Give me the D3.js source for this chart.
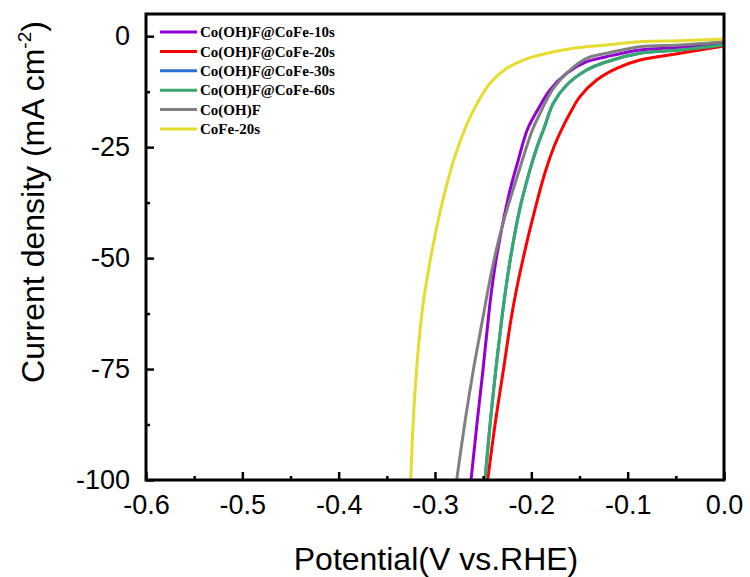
<!DOCTYPE html>
<html>
<head>
<meta charset="utf-8">
<script src="https://cdn.jsdelivr.net/npm/d3@7"></script>
<style>
  html, body { margin: 0; padding: 0; background: #fff; }
  svg { display: block; }
</style>
</head>
<body>
<svg id="chart" width="750" height="577"></svg>
<script>
// ---------- data ----------
const seriesNames = ["Co(OH)F@CoFe-10s", "Co(OH)F@CoFe-20s", "Co(OH)F@CoFe-30s", "Co(OH)F@CoFe-60s", "Co(OH)F", "CoFe-20s"];
const seriesColors = ["#9400d3", "#ff0000", "#2a6fd6", "#38a96b", "#808080", "#e6dc2e"];

// Co(OH)F@CoFe-10s
const potential10s = [0, -0.0457, -0.0872, -0.1218, -0.1425, -0.1633, -0.1806, -0.1935, -0.2040, -0.2145, -0.2197, -0.2245, -0.2310, -0.2372, -0.2420, -0.2462, -0.2502, -0.2560, -0.2626];
const current10s   = [-1.60, -2.50, -3.11, -4.62, -5.75, -8.36, -12.12, -16.63, -20.98, -28.64, -32.63, -36.90, -43.67, -51.17, -58.54, -66.87, -75.22, -86.49, -100];
// Co(OH)F@CoFe-20s
const potential20s = [0, -0.0457, -0.0872, -0.1114, -0.1322, -0.1495, -0.1599, -0.1685, -0.1765, -0.1860, -0.1990, -0.2073, -0.2155, -0.2212, -0.2290, -0.2370, -0.2453];
const current20s   = [-2.21, -3.86, -5.37, -7.24, -9.87, -13.63, -17.37, -20.98, -24.90, -30.89, -41.41, -48.92, -57.19, -63.95, -75.22, -86.49, -100];
// Co(OH)F@CoFe-30s (lies beneath the 60s curve in the original)
const potential30s = [0, -0.0457, -0.0872, -0.1218, -0.1425, -0.1633, -0.1772, -0.1872, -0.1940, -0.2025, -0.2130, -0.2208, -0.2267, -0.2308, -0.2369, -0.2424, -0.2481];
const current30s   = [-1.99, -3.11, -3.86, -5.75, -7.62, -11.00, -15.12, -20.98, -24.90, -30.89, -39.91, -48.92, -57.19, -63.95, -75.22, -86.49, -100];
// Co(OH)F@CoFe-60s
const potential60s = [0, -0.0457, -0.0872, -0.1218, -0.1425, -0.1633, -0.1772, -0.1872, -0.1940, -0.2025, -0.2130, -0.2208, -0.2267, -0.2308, -0.2369, -0.2424, -0.2481];
const current60s   = [-1.99, -3.11, -3.86, -5.75, -7.62, -11.00, -15.12, -20.98, -24.90, -30.89, -39.91, -48.92, -57.19, -63.95, -75.22, -86.49, -100];
// Co(OH)F
const potentialCoOHF = [0, -0.0457, -0.0872, -0.1218, -0.1425, -0.1599, -0.1772, -0.1893, -0.1986, -0.2049, -0.2136, -0.2284, -0.2372, -0.2450, -0.2507, -0.2602, -0.2686, -0.2775];
const currentCoOHF   = [-1.24, -1.99, -2.37, -3.86, -4.98, -7.62, -11.74, -16.63, -20.98, -24.90, -30.89, -41.41, -48.92, -57.19, -63.95, -75.22, -86.49, -100];
// CoFe-20s
const potentialCoFe = [0, -0.0457, -0.0872, -0.1218, -0.1565, -0.1910, -0.2083, -0.2256, -0.2429, -0.2560, -0.2665, -0.2795, -0.2865, -0.2918, -0.2990, -0.3058, -0.3118, -0.3155, -0.3192, -0.3225, -0.3252];
const currentCoFe   = [-0.63, -1.02, -1.24, -1.99, -2.73, -4.24, -5.37, -7.24, -10.62, -15.05, -19.63, -27.15, -32.40, -36.90, -43.90, -51.56, -59.45, -66.21, -75.22, -86.49, -100];

const xTicks = [-0.6, -0.5, -0.4, -0.3, -0.2, -0.1, 0.0];
const xTickLabels = ["-0.6", "-0.5", "-0.4", "-0.3", "-0.2", "-0.1", "0.0"];
const xMinorTicks = [-0.55, -0.45, -0.35, -0.25, -0.15, -0.05];
const yTicks = [0, -25, -50, -75, -100];
const yTickLabels = ["0", "-25", "-50", "-75", "-100"];
const yMinorTicks = [-12.5, -37.5, -62.5, -87.5];

const seriesPotentials = [potential10s, potential20s, potential30s, potential60s, potentialCoOHF, potentialCoFe];
const seriesCurrents = [current10s, current20s, current30s, current60s, currentCoOHF, currentCoFe];

(function () {
// ---------- layout ----------
const pLeft = 146, pRight = 724, pTop = 14, pBottom = 480;
const svg = d3.select("#chart");

const x = d3.scaleLinear().domain([-0.6, 0]).range([pLeft, pRight]);
const y = d3.scaleLinear().domain([-100, 5]).range([pBottom, pTop]);

svg.append("clipPath").attr("id", "plotclip")
  .append("rect").attr("x", pLeft).attr("y", pTop).attr("width", pRight - pLeft).attr("height", pBottom - pTop);

// curves (drawn in legend order: yellow ends on top)
const lineGen = d3.line().x(d => x(d[0])).y(d => y(d[1])).curve(d3.curveCatmullRom.alpha(0.5));
const gLines = svg.append("g").attr("clip-path", "url(#plotclip)");
seriesNames.forEach((name, i) => {
  const pts = seriesPotentials[i].map((v, k) => [v, seriesCurrents[i][k]]);
  gLines.append("path")
    .attr("d", lineGen(pts))
    .attr("fill", "none")
    .attr("stroke", seriesColors[i])
    .attr("stroke-width", 3)
    .attr("stroke-linejoin", "round");
});

// axes with inward ticks
const tickFont = "'Liberation Sans', Arial, sans-serif";

const xAxis = svg.append("g").attr("transform", `translate(0,${pBottom})`)
  .call(d3.axisBottom(x).tickValues(xTicks).tickFormat((d, i) => xTickLabels[i]).tickSizeInner(-8).tickSizeOuter(0));
xAxis.select(".domain").remove();
xAxis.selectAll(".tick line").attr("stroke", "#000").attr("stroke-width", 2.5);
xAxis.selectAll(".tick text").attr("font-family", tickFont).attr("font-size", 27).attr("fill", "#000")
  .attr("y", 15).attr("dy", "0.71em");

const xMinor = svg.append("g").attr("transform", `translate(0,${pBottom})`)
  .call(d3.axisBottom(x).tickValues(xMinorTicks).tickFormat("").tickSizeInner(-4).tickSizeOuter(0));
xMinor.select(".domain").remove();
xMinor.selectAll(".tick line").attr("stroke", "#000").attr("stroke-width", 2.5);

const yAxis = svg.append("g").attr("transform", `translate(${pLeft},0)`)
  .call(d3.axisLeft(y).tickValues(yTicks).tickFormat((d, i) => yTickLabels[i]).tickSizeInner(-8).tickSizeOuter(0));
yAxis.select(".domain").remove();
yAxis.selectAll(".tick line").attr("stroke", "#000").attr("stroke-width", 2.5);
yAxis.selectAll(".tick text").attr("font-family", tickFont).attr("font-size", 27).attr("fill", "#000")
  .attr("x", -16).attr("dy", "0.3em");

const yMinor = svg.append("g").attr("transform", `translate(${pLeft},0)`)
  .call(d3.axisLeft(y).tickValues(yMinorTicks).tickFormat("").tickSizeInner(-4).tickSizeOuter(0));
yMinor.select(".domain").remove();
yMinor.selectAll(".tick line").attr("stroke", "#000").attr("stroke-width", 2.5);

// frame
svg.append("rect")
  .attr("x", pLeft).attr("y", pTop).attr("width", pRight - pLeft).attr("height", pBottom - pTop)
  .attr("fill", "none").attr("stroke", "#000").attr("stroke-width", 3);

// axis titles
svg.append("text")
  .attr("x", 436).attr("y", 570)
  .attr("text-anchor", "middle")
  .attr("font-family", tickFont).attr("font-size", 32).attr("fill", "#000")
  .text("Potential(V vs.RHE)");

const yt = svg.append("text")
  .attr("transform", `translate(44,${(20 + 384) / 2}) rotate(-90)`)
  .attr("text-anchor", "middle")
  .attr("font-family", tickFont).attr("font-size", 32).attr("fill", "#000");
yt.append("tspan").text("Current density (mA cm");
yt.append("tspan").attr("font-size", 19).attr("dy", -13).text("-2");
yt.append("tspan").attr("dy", 13).text(")");

// legend
const legendY0 = 32, legendStep = 19.4;
const legend = svg.append("g");
seriesNames.forEach((name, i) => {
  const ly = legendY0 + i * legendStep;
  legend.append("line")
    .attr("x1", 160).attr("x2", 197).attr("y1", ly).attr("y2", ly)
    .attr("stroke", seriesColors[i]).attr("stroke-width", 3);
  legend.append("text")
    .attr("x", 200).attr("y", ly).attr("dy", "0.35em")
    .attr("font-family", "'Liberation Serif', 'Times New Roman', serif")
    .attr("font-weight", "bold").attr("font-size", 15).attr("fill", "#000")
    .text(name);
});
})();
</script>
</body>
</html>
